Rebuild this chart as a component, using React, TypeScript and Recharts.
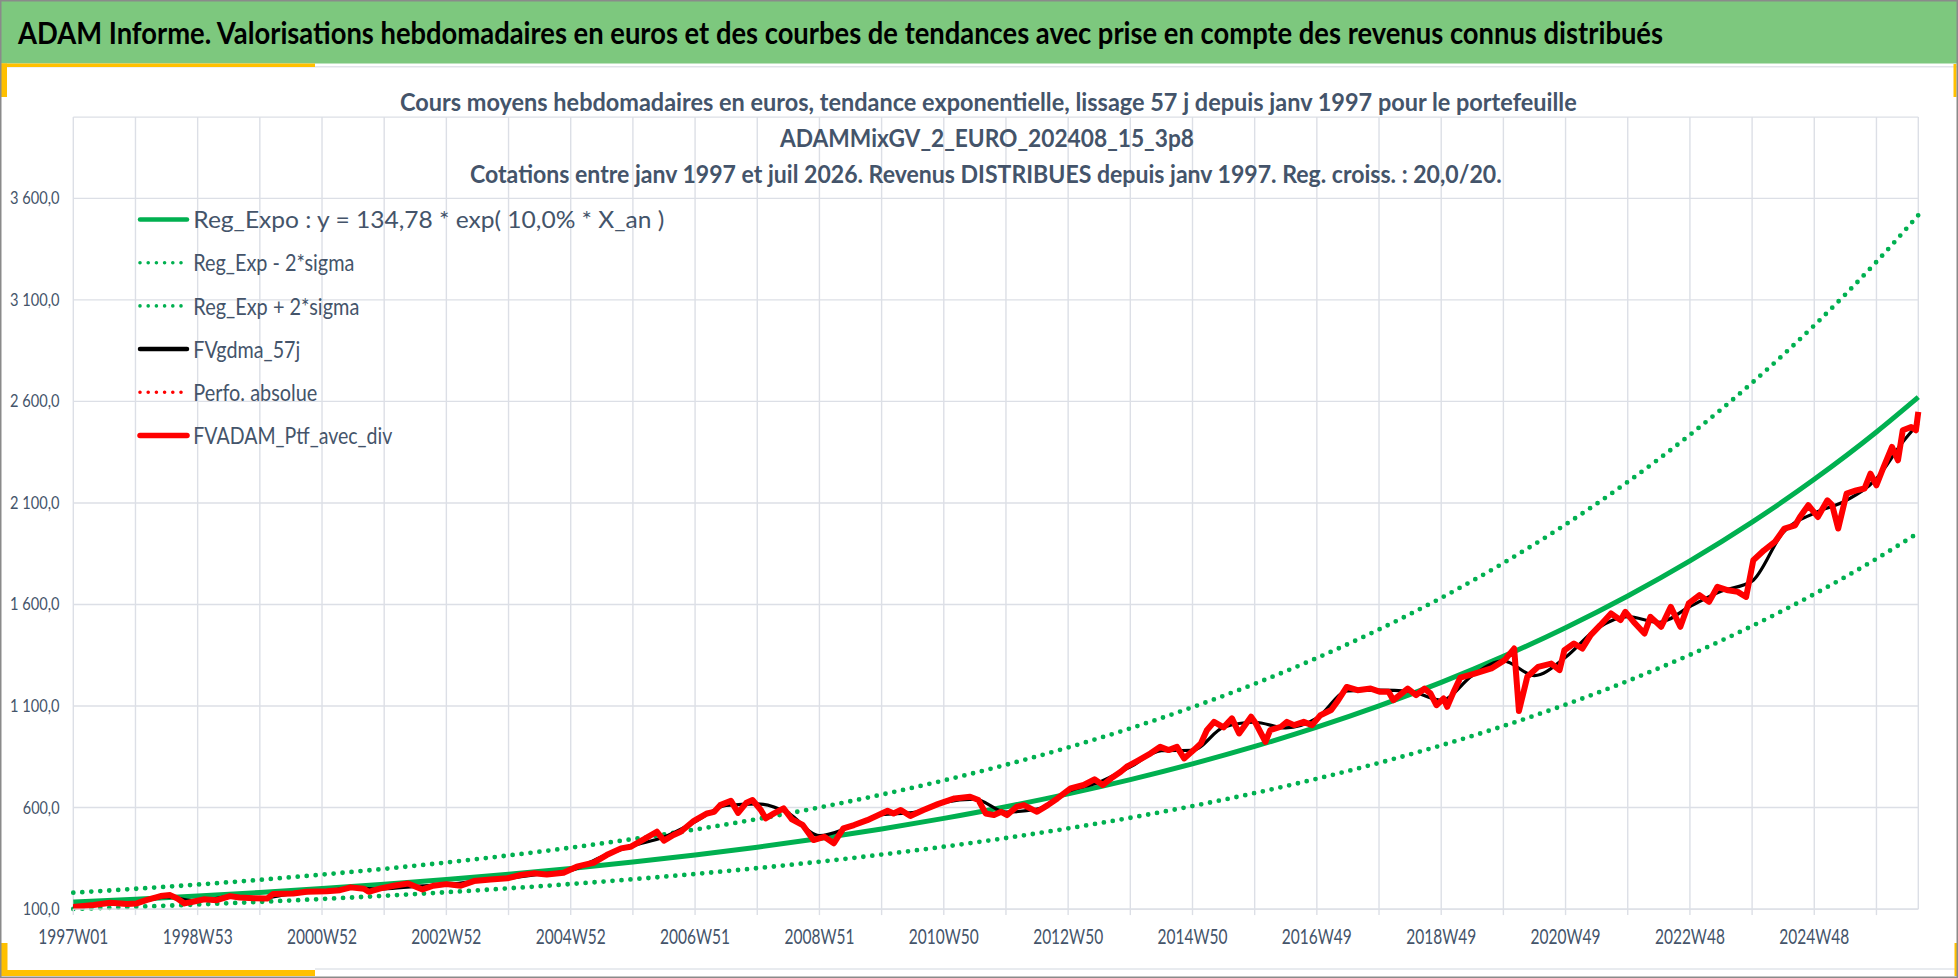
import React from "react";
import { CartesianGrid, Legend, Line, LineChart, XAxis, YAxis } from "recharts";

const W = 1958;
const H = 978;

// axe des semaines : une graduation par an, un libellé tous les deux ans
const weekTicks = [
  0, 52, 104, 156, 208, 260, 312, 364, 416, 468, 520, 572, 624, 676, 728, 780, 832, 884, 936, 988, 1040,
  1092, 1144, 1196, 1248, 1300, 1352, 1404, 1456, 1508,
];
const weekLabels = [
  "1997W01", "1998W53", "2000W52", "2002W52", "2004W52", "2006W51", "2008W51", "2010W50",
  "2012W50", "2014W50", "2016W49", "2018W49", "2020W49", "2022W48", "2024W48",
];
const valueTicks = [100, 600, 1100, 1600, 2100, 2600, 3100, 3600];

// courbes de tendance, relevées une fois par an
const trendWeeks = [
  0, 52, 104, 156, 208, 260, 312, 364, 416, 468, 520, 572, 624, 676, 728, 780, 832, 884, 936, 988, 1040,
  1092, 1144, 1196, 1248, 1300, 1352, 1404, 1456, 1508, 1543,
];
const regExpo = [
  134.8, 149.0, 164.6, 181.9, 201.1, 222.2, 245.6, 271.4, 300.0, 331.5, 366.4, 404.9, 447.5, 494.6, 546.6,
  604.0, 667.6, 737.8, 815.4, 901.1, 995.9, 1100.6, 1216.4, 1344.3, 1485.7, 1642.0, 1814.6, 2005.5, 2216.4,
  2449.5, 2621.0,
];
const regExpMinus = [
  100.4, 111.0, 122.6, 135.5, 149.8, 165.5, 183.0, 202.2, 223.5, 247.0, 273.0, 301.7, 333.4, 368.5, 407.2,
  450.0, 497.4, 549.7, 607.5, 671.3, 741.9, 820.0, 906.2, 1001.5, 1106.8, 1223.3, 1351.9, 1494.1, 1651.2,
  1824.9, 1953.0,
];
const regExpPlus = [
  180.9, 199.9, 220.9, 244.1, 269.9, 298.2, 329.6, 364.2, 402.6, 444.9, 491.7, 543.4, 600.5, 663.8, 733.5,
  810.6, 895.9, 990.1, 1094.3, 1209.3, 1336.5, 1477.0, 1632.4, 1804.1, 1993.8, 2203.6, 2435.2, 2691.4, 2974.4,
  3287.2, 3517.0,
];

// moyenne mobile 57 j
const smoothWeeks = [
  0, 26, 52, 78, 104, 130, 156, 182, 208, 234, 260, 286, 312, 338, 364, 390, 416, 442, 468, 494, 520, 546,
  572, 598, 624, 650, 676, 702, 728, 754, 780, 806, 832, 858, 884, 910, 936, 962, 988, 1014, 1040, 1066,
  1092, 1118, 1144, 1170, 1196, 1222, 1248, 1274, 1300, 1326, 1352, 1378, 1404, 1430, 1456, 1482, 1508,
  1530, 1543,
];
const smoothValues = [
  113, 124, 130, 160, 140, 160, 154, 175, 187, 203, 200, 212, 220, 238, 252, 272, 290, 358, 412, 455, 530,
  610, 618, 572, 462, 505, 565, 575, 625, 642, 578, 592, 680, 725, 800, 880, 882, 995, 1020, 992, 1040, 1175,
  1178, 1172, 1128, 1250, 1322, 1250, 1340, 1480, 1540, 1512, 1590, 1665, 1715, 1955, 2050, 2110, 2220,
  2400, 2490,
];

// portefeuille avec dividendes
const ptfWeeks = [
  0, 17, 31, 45, 53, 61, 73, 81, 87, 93, 100, 109, 120, 131, 139, 151, 162, 167, 184, 195, 212, 223, 232,
  243, 247, 257, 268, 280, 292, 301, 312, 324, 335, 349, 363, 374, 385, 396, 410, 421, 435, 446, 458, 466,
  477, 488, 494, 502, 508, 519, 530, 536, 541, 550, 556, 563, 568, 575, 579, 586, 594, 601, 610, 615, 619,
  628, 636, 644, 653, 664, 681, 686, 692, 700, 711, 723, 737, 750, 757, 763, 770, 776, 781, 789, 795, 806,
  815, 823, 834, 845, 854, 861, 868, 876, 881, 890, 901, 909, 916, 923, 929, 937, 943, 948, 954, 962, 969,
  975, 985, 989, 997, 1001, 1010, 1015, 1021, 1029, 1036, 1043, 1052, 1057, 1065, 1074, 1085, 1093, 1100,
  1104, 1116, 1123, 1130, 1135, 1140, 1146, 1149, 1155, 1160, 1172, 1186, 1197, 1205, 1209, 1216, 1225,
  1236, 1243, 1247, 1255, 1262, 1269, 1277, 1286, 1294, 1298, 1305, 1314, 1319, 1328, 1336, 1344, 1351,
  1360, 1368, 1375, 1384, 1392, 1399, 1405, 1414, 1423, 1431, 1440, 1444, 1451, 1459, 1467, 1471, 1476,
  1483, 1491, 1498, 1503, 1508, 1514, 1521, 1526, 1530, 1537, 1541, 1543,
];
const ptfValues = [
  111, 120, 131, 125, 128, 144, 164, 169, 152, 128, 136, 148, 144, 164, 157, 154, 152, 174, 177, 185, 188,
  193, 207, 200, 185, 202, 215, 226, 197, 215, 223, 215, 238, 246, 252, 268, 276, 270, 279, 309, 328, 366,
  399, 407, 443, 481, 437, 465, 481, 535, 571, 579, 612, 633, 574, 624, 637, 588, 547, 571, 596, 542, 514,
  473, 440, 456, 424, 498, 514, 538, 584, 571, 588, 558, 588, 617, 645, 653, 637, 571, 563, 579, 563, 604,
  612, 579, 612, 645, 694, 711, 739, 711, 744, 776, 801, 830, 867, 899, 883, 899, 842, 883, 916, 981, 1022,
  995, 1039, 965, 1047, 1014, 924, 981, 998, 1022, 1006, 1022, 1006, 1055, 1080, 1121, 1194, 1178, 1186,
  1170, 1170, 1129, 1186, 1154, 1186, 1162, 1104, 1137, 1096, 1178, 1240, 1260, 1285, 1326, 1383, 1075,
  1244, 1293, 1309, 1277, 1375, 1408, 1383, 1449, 1498, 1556, 1523, 1564, 1514, 1457, 1539, 1490, 1588,
  1490, 1605, 1646, 1613, 1687, 1670, 1662, 1637, 1818, 1867, 1908, 1974, 1990, 2031, 2089, 2031, 2113,
  2089, 1974, 2146, 2162, 2171, 2244, 2187, 2277, 2376, 2310, 2458, 2474, 2458, 2548,
];

const legendLabels = [
  "Reg_Expo : y = 134,78 * exp( 10,0% *  X_an )",
  "Reg_Exp - 2*sigma",
  "Reg_Exp + 2*sigma",
  "FVgdma_57j",
  "Perfo. absolue",
  "FVADAM_Ptf_avec_div",
];

const headerText =
  "ADAM Informe. Valorisations hebdomadaires en euros et des courbes de tendances avec prise en compte des revenus connus distribués";
const titleLines = [
  "Cours moyens hebdomadaires  en euros, tendance exponentielle, lissage 57 j depuis janv 1997 pour le portefeuille",
  "ADAMMixGV_2_EURO_202408_15_3p8",
  "Cotations  entre janv 1997 et juil 2026. Revenus DISTRIBUES depuis janv 1997. Reg. croiss. : 20,0/20.",
];

const toRows = (weeks: number[], values: number[]) => weeks.map((w, i) => ({ w, v: values[i] }));
const regExpoData = toRows(trendWeeks, regExpo);
const regExpMinusData = toRows(trendWeeks, regExpMinus);
const regExpPlusData = toRows(trendWeeks, regExpPlus);
const smoothData = toRows(smoothWeeks, smoothValues);
const ptfData = toRows(ptfWeeks, ptfValues);

const FONT = "Lato, 'Open Sans', sans-serif";
const TXT = "#44546A";
const GREEN = "#00B050";
const RED = "#FF0000";
const GRID = "#DCDFE6";

const frNumber = (v: number) => {
  const [i, d] = v.toFixed(1).split(".");
  return i.replace(/\B(?=(\d{3})+(?!\d))/g, "\u00A0") + "," + d;
};

const labelWidth = (s: string) => {
  let w = 0;
  for (const c of s) w += /\d/.test(c) ? 8.1 : c === "," ? 4.3 : 4.7;
  return w;
};

function WeekTick(props: any) {
  const { x, y, payload } = props;
  const v = payload.value as number;
  if (v % 104 !== 0) return <g />;
  return (
    <text x={x} y={y + 28.5} textAnchor="middle" fill={TXT} fontFamily={FONT} fontSize={21}
      textLength={70} lengthAdjust="spacingAndGlyphs">
      {weekLabels[v / 104]}
    </text>
  );
}

function ValueTick(props: any) {
  const { x, y, payload } = props;
  const s = frNumber(payload.value);
  return (
    <text x={x - 13.8} y={y + 6} textAnchor="end" fill={TXT} fontFamily={FONT} fontSize={17}
      textLength={labelWidth(s)} lengthAdjust="spacingAndGlyphs">
      {s}
    </text>
  );
}

const legendTextWidths = [471, 161, 166, 107, 124, 199];

function LegendBox() {
  const styles = [
    { color: GREEN, dotted: false, w: 4.5 },
    { color: GREEN, dotted: true, w: 3.6 },
    { color: GREEN, dotted: true, w: 3.6 },
    { color: "#000000", dotted: false, w: 4.5 },
    { color: RED, dotted: true, w: 3.6 },
    { color: RED, dotted: false, w: 5.5 },
  ];
  return (
    <svg width={700} height={470} style={{ display: "block" }}>
      {legendLabels.map((label, i) => {
        const cy = 219.5 + i * 43.2;
        const st = styles[i];
        return (
          <g key={label}>
            <line x1={140} x2={187} y1={cy} y2={cy} stroke={st.color} strokeWidth={st.w}
              strokeLinecap="round" strokeDasharray={st.dotted ? "0 8.2" : undefined} />
            <text x={193.3} y={cy + 8.6} fill={TXT} fontFamily={FONT} fontSize={24}
              textLength={legendTextWidths[i]} lengthAdjust="spacingAndGlyphs">
              {label}
            </text>
          </g>
        );
      })}
    </svg>
  );
}

function Frame() {
  const gold = "#FFC000";
  return (
    <svg width={W} height={H} style={{ position: "absolute", left: 0, top: 0, pointerEvents: "none" }}>
      <rect x={1} y={1} width={W - 2} height={62.5} fill="#7DC87E" />
      <line x1={0} x2={W} y1={66.7} y2={66.7} stroke="#E1E4EA" strokeWidth={1.5} />
      <line x1={315} x2={W} y1={969} y2={969} stroke="#E1E4EA" strokeWidth={1.5} />
      <rect x={1} y={63.5} width={314} height={3.5} fill={gold} />
      <rect x={1} y={63.5} width={6} height={33.5} fill={gold} />
      <rect x={1} y={970} width={314} height={6} fill={gold} />
      <rect x={1} y={943} width={6.5} height={33} fill={gold} />
      <rect x={1953.5} y={64} width={3} height={33} fill={gold} />
      <rect x={1954.5} y={943} width={2.5} height={33} fill={gold} />
      <rect x={0.75} y={0.75} width={W - 1.5} height={H - 1.5} fill="none" stroke="#8A8A8A" strokeWidth={1.5} />
      <text x={18} y={43.5} fill="#000000" fontFamily={FONT} fontWeight={700} fontSize={31}
        textLength={1645} lengthAdjust="spacingAndGlyphs">
        {headerText}
      </text>
      <text x={400} y={110.7} fill={TXT} fontFamily={FONT} fontWeight={700} fontSize={24}
        textLength={1176.7} lengthAdjust="spacingAndGlyphs">
        {titleLines[0]}
      </text>
      <text x={780} y={146.7} fill={TXT} fontFamily={FONT} fontWeight={700} fontSize={24}
        textLength={414} lengthAdjust="spacingAndGlyphs">
        {titleLines[1]}
      </text>
      <text x={470} y={183.3} fill={TXT} fontFamily={FONT} fontWeight={700} fontSize={24}
        textLength={1031.7} lengthAdjust="spacingAndGlyphs">
        {titleLines[2]}
      </text>
    </svg>
  );
}

export default function App() {
  return (
    <div style={{ position: "absolute", left: 0, top: 0, width: W, height: H, background: "#ffffff", overflow: "hidden" }}>
      <LineChart width={W} height={H} margin={{ top: 117.1, right: 39.7, bottom: 38.9, left: 13.3 }}>
        <CartesianGrid stroke={GRID} strokeWidth={1.4} />
        <XAxis
          type="number"
          dataKey="w"
          domain={[0, 1543]}
          ticks={weekTicks}
          interval={0}
          height={30}
          axisLine={{ stroke: GRID, strokeWidth: 1.4 }}
          tickLine={{ stroke: GRID, strokeWidth: 1.4 }}
          tickSize={6}
          tickMargin={0}
          tick={<WeekTick />}
        />
        <YAxis
          type="number"
          domain={[100, 4000]}
          ticks={valueTicks}
          interval={0}
          width={60}
          axisLine={false}
          tickLine={false}
          tickSize={0}
          tickMargin={0}
          tick={<ValueTick />}
        />
        <Legend
          layout="vertical"
          align="center"
          verticalAlign="middle"
          width={700}
          height={470}
          wrapperStyle={{ left: 0, top: 0, width: 700, height: 470 }}
          content={() => <LegendBox />}
        />
        <Line data={regExpoData} dataKey="v" type="monotone" stroke={GREEN} strokeWidth={5}
          dot={false} isAnimationActive={false} legendType="none" />
        <Line data={regExpMinusData} dataKey="v" type="monotone" stroke={GREEN} strokeWidth={4.8}
          strokeDasharray="0 9" strokeLinecap="round" dot={false} isAnimationActive={false} legendType="none" />
        <Line data={regExpPlusData} dataKey="v" type="monotone" stroke={GREEN} strokeWidth={4.8}
          strokeDasharray="0 9" strokeLinecap="round" dot={false} isAnimationActive={false} legendType="none" />
        <Line data={smoothData} dataKey="v" type="monotone" stroke="#000000" strokeWidth={3.2}
          dot={false} isAnimationActive={false} legendType="none" />
        <Line data={ptfData} dataKey="v" type="linear" stroke={RED} strokeWidth={6}
          strokeLinejoin="round" dot={false} isAnimationActive={false} legendType="none" />
      </LineChart>
      <Frame />
    </div>
  );
}
